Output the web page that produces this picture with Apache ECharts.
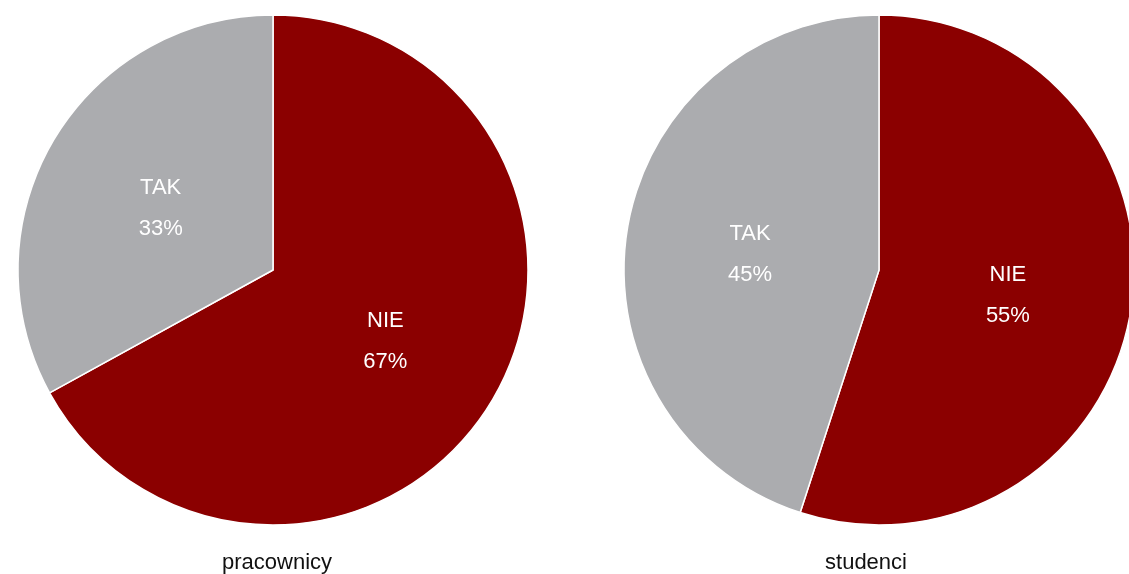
<!DOCTYPE html>
<html>
<head>
<meta charset="utf-8">
<script src="https://cdn.jsdelivr.net/npm/echarts@6/dist/echarts.min.js"></script>
<style>
  html, body { margin: 0; padding: 0; background: #fff; }
  #main { width: 1129px; height: 574px; }
</style>
</head>
<body>
<div id="main"></div>
<script>
// dane
const answers = ['NIE', 'TAK'];
const pracownicy = [67, 33];
const studenci = [55, 45];
const groupNames = ['pracownicy', 'studenci'];

const colors = ['#8B0000', '#ABACAF'];

const makeData = (vals) => answers.map((a, i) => ({ name: a, value: vals[i] }));

const pieSeries = (vals, center) => ({
    type: 'pie',
    center: center,
    radius: 255,
    startAngle: 90,
    clockwise: true,
    silent: true,
    label: {
        show: true,
        position: 'inside',
        formatter: '{b}\n{d}%',
        color: '#ffffff',
        fontSize: 22,
        lineHeight: 41,
        offset: [0, 5],
        fontFamily: 'Liberation Sans, Arial, sans-serif'
    },
    labelLine: { show: false },
    itemStyle: { borderColor: '#ffffff', borderWidth: 1.5 },
    data: makeData(vals)
});

const titleStyle = { fontSize: 22, fontWeight: 'normal', color: '#111', fontFamily: 'Liberation Sans, Arial, sans-serif' };

const chart = echarts.init(document.getElementById('main'));
chart.setOption({
    animation: false,
    color: colors,
    title: [
        { text: groupNames[0], left: 272, top: 547, textAlign: 'center', textStyle: titleStyle },
        { text: groupNames[1], left: 861, top: 547, textAlign: 'center', textStyle: titleStyle }
    ],
    series: [
        pieSeries(pracownicy, [273, 270]),
        pieSeries(studenci, [879, 270])
    ]
});
</script>
</body>
</html>
